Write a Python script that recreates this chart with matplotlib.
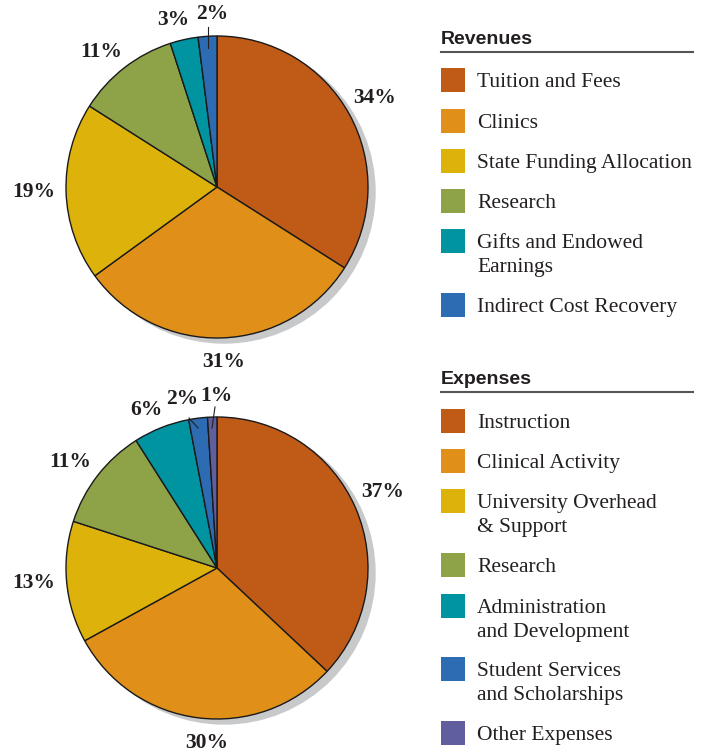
import matplotlib.pyplot as plt
from matplotlib.patches import Circle, Rectangle

# data
rev_labels = ['Tuition and Fees', 'Clinics', 'State Funding Allocation', 'Research',
              'Gifts and Endowed\nEarnings', 'Indirect Cost Recovery']
rev_values = [34, 31, 19, 11, 3, 2]
exp_labels = ['Instruction', 'Clinical Activity', 'University Overhead\n& Support', 'Research',
              'Administration\nand Development', 'Student Services\nand Scholarships', 'Other Expenses']
exp_values = [37, 30, 13, 11, 6, 2, 1]

colors = ['#C05A17', '#E09019', '#DCB20B', '#8EA348', '#0093A0', '#2D6CB3', '#605E9D']

W, H = 713, 753


def py(y):
    # pixel row (from top) -> data y
    return H - y


fig = plt.figure(figsize=(W / 100, H / 100), dpi=100)
ax = fig.add_axes([0, 0, 1, 1])

serif = 'Liberation Serif'
ink = '#231f20'
R = 151


def draw_pie(cx, cy, values, label_pos, leaders):
    # drop shadow
    ax.add_patch(Circle((cx + 7, py(cy) - 5), R, color='#c8c9cb', zorder=1))
    wedges, _ = ax.pie(values, colors=colors[:len(values)], startangle=90, counterclock=False,
                       center=(cx, py(cy)), radius=R, frame=True,
                       wedgeprops=dict(edgecolor='#1a1a1a', linewidth=1.0))
    for w in wedges:
        w.set_zorder(2)
    for v, (x, y) in zip(values, label_pos):
        ax.text(x, py(y), f'{v}%', ha='center', va='center', fontsize=15.5,
                fontweight='bold', family=serif, color=ink, zorder=4)
    for (x0, y0), (x1, y1) in leaders:
        ax.plot([x0, x1], [py(y0), py(y1)], color=ink, lw=0.8, zorder=4)


def draw_legend(title, labels, title_y, row_ys):
    ax.text(441, py(title_y + 6), title, ha='left', va='baseline', fontsize=14, fontweight='bold',
            family='Liberation Sans', color=ink)
    ax.plot([441, 693], [py(title_y + 14), py(title_y + 14)], color='#555555', lw=1.5)
    for i, (lab, y) in enumerate(zip(labels, row_ys)):
        ax.add_patch(Rectangle((441, py(y) - 12), 24, 24, color=colors[i], lw=0))
        for j, line in enumerate(lab.split('\n')):
            ax.text(477, py(y + 7 + 24 * j), line, ha='left', va='baseline', fontsize=15.5,
                    family=serif, color=ink)


# Revenues pie
draw_pie(217, 187, rev_values,
         [(375, 98), (224, 362), (34, 192), (101, 52), (173, 20), (212, 14)],
         [((208, 27), (208, 48))])
# Expenses pie
draw_pie(217, 568, exp_values,
         [(383, 492), (207, 743), (34, 583), (70, 462), (146, 410), (182, 399), (216, 396)],
         [((189, 418), (198, 428)), ((215, 407), (212, 428))])

draw_legend('Revenues', rev_labels, 38, [80, 121, 161, 201, 241, 305])
draw_legend('Expenses', exp_labels, 378, [421, 461, 501, 565, 606, 669, 733])

ax.set_xlim(0, W)
ax.set_ylim(0, H)
ax.set_aspect('equal')
ax.axis('off')

fig.savefig('out.png', dpi=100, facecolor='white')
